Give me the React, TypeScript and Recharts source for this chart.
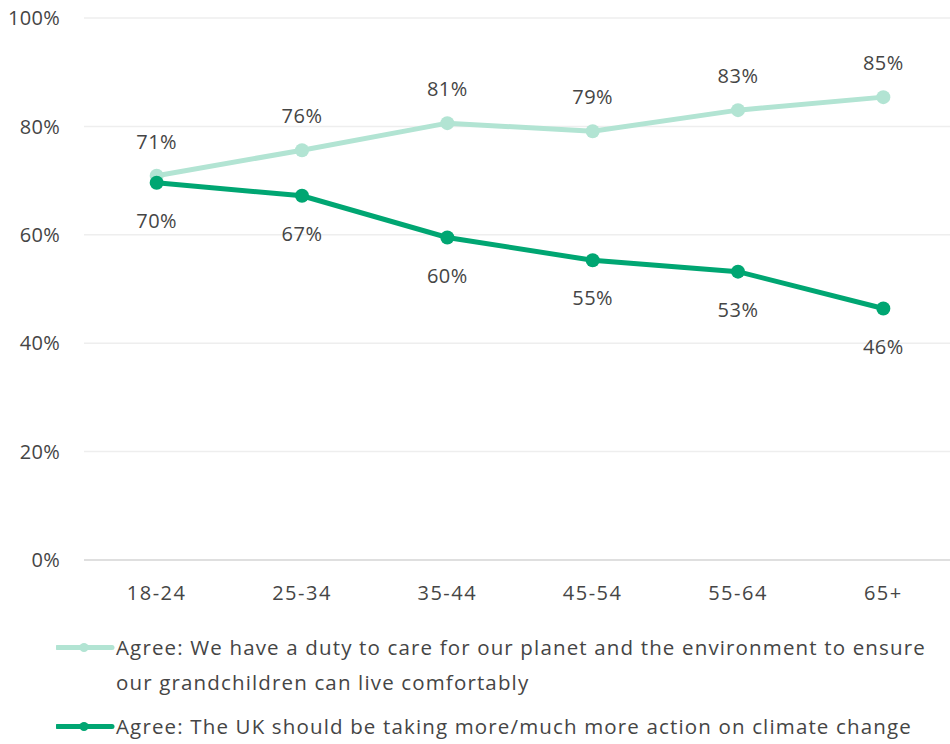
import { LineChart, Line, XAxis, YAxis, CartesianGrid, LabelList, Legend } from "recharts";

const ageGroups = ["18-24", "25-34", "35-44", "45-54", "55-64", "65+"];
const dutyToCare = [70.9, 75.6, 80.6, 79.1, 83.0, 85.4];
const moreAction = [69.6, 67.2, 59.5, 55.3, 53.2, 46.4];
const yTicks = [0, 20, 40, 60, 80, 100];

const seriesNames = [
  "Agree: We have a duty to care for our planet and the environment to ensure our grandchildren can live comfortably",
  "Agree: The UK should be taking more/much more action on climate change",
];
const seriesColors = ["#b2e4d3", "#00a672"];

const data = ageGroups.map((age, i) => ({
  age,
  duty: dutyToCare[i],
  action: moreAction[i],
}));

const FONT = "'Open Sans', sans-serif";
const TEXT = "#454545";

const pct = (v: any) => `${Math.round(Number(v))}%`;

const LegendBlock = () => (
  <div style={{ fontFamily: FONT, fontSize: 20.5, letterSpacing: 1.15, color: TEXT }}>
    {seriesNames.map((name, i) => (
      <div
        key={name}
        style={{ display: "flex", alignItems: "flex-start", marginBottom: i === 0 ? 9 : 0 }}
      >
        <svg width={60} height={35} style={{ flex: "none", marginLeft: 56 }}>
          <line x1={1} y1={17.5} x2={56} y2={17.5} stroke={seriesColors[i]} strokeWidth={5} strokeLinecap="round" />
          <circle cx={28} cy={17.5} r={4.5} fill={seriesColors[i]} />
        </svg>
        <div style={{ width: 834, lineHeight: "35px", whiteSpace: "normal" }}>{name}</div>
      </div>
    ))}
  </div>
);

export default function App() {
  return (
    <div style={{ width: 950, height: 744, overflow: "hidden", position: "relative", background: "#fff" }}>
      <style>{`body{margin:0}`}</style>
      <LineChart
        width={956}
        height={744}
        data={data}
        margin={{ top: 18, right: 0, bottom: 154, left: 0 }}
      >
        <CartesianGrid vertical={false} stroke="#eeeeee" strokeWidth={1.5} />
        <XAxis
          dataKey="age"
          scale="band"
          height={30}
          axisLine={{ stroke: "#d9d9d9", strokeWidth: 1.5 }}
          tickLine={false}
          tickSize={0}
          tickMargin={26}
          tick={{ fill: TEXT, fontSize: 20, fontFamily: FONT, letterSpacing: 1.5 }}
        />
        <YAxis
          width={84}
          domain={[0, 100]}
          ticks={yTicks}
          axisLine={false}
          tickLine={false}
          tickSize={0}
          tickMargin={24}
          tickFormatter={(v) => `${v}%`}
          tick={{ fill: TEXT, fontSize: 20, fontFamily: FONT, letterSpacing: 0.3 }}
        />
        <Line
          dataKey="duty"
          name={seriesNames[0]}
          stroke={seriesColors[0]}
          strokeWidth={5}
          dot={{ r: 7, fill: seriesColors[0], stroke: "none" }}
          activeDot={false}
          isAnimationActive={false}
        >
          <LabelList
            dataKey="duty"
            position="top"
            offset={27}
            formatter={pct}
            style={{ fill: TEXT, fontSize: 20, fontFamily: FONT, letterSpacing: 0.5 }}
          />
        </Line>
        <Line
          dataKey="action"
          name={seriesNames[1]}
          stroke={seriesColors[1]}
          strokeWidth={5}
          dot={{ r: 7, fill: seriesColors[1], stroke: "none" }}
          activeDot={false}
          isAnimationActive={false}
        >
          <LabelList
            dataKey="action"
            position="bottom"
            offset={31}
            formatter={pct}
            style={{ fill: TEXT, fontSize: 20, fontFamily: FONT, letterSpacing: 0.5 }}
          />
        </Line>
        <Legend
          verticalAlign="middle"
          align="center"
          content={() => <LegendBlock />}
          wrapperStyle={{ top: 630, left: 0, width: 950 }}
        />
      </LineChart>
    </div>
  );
}
